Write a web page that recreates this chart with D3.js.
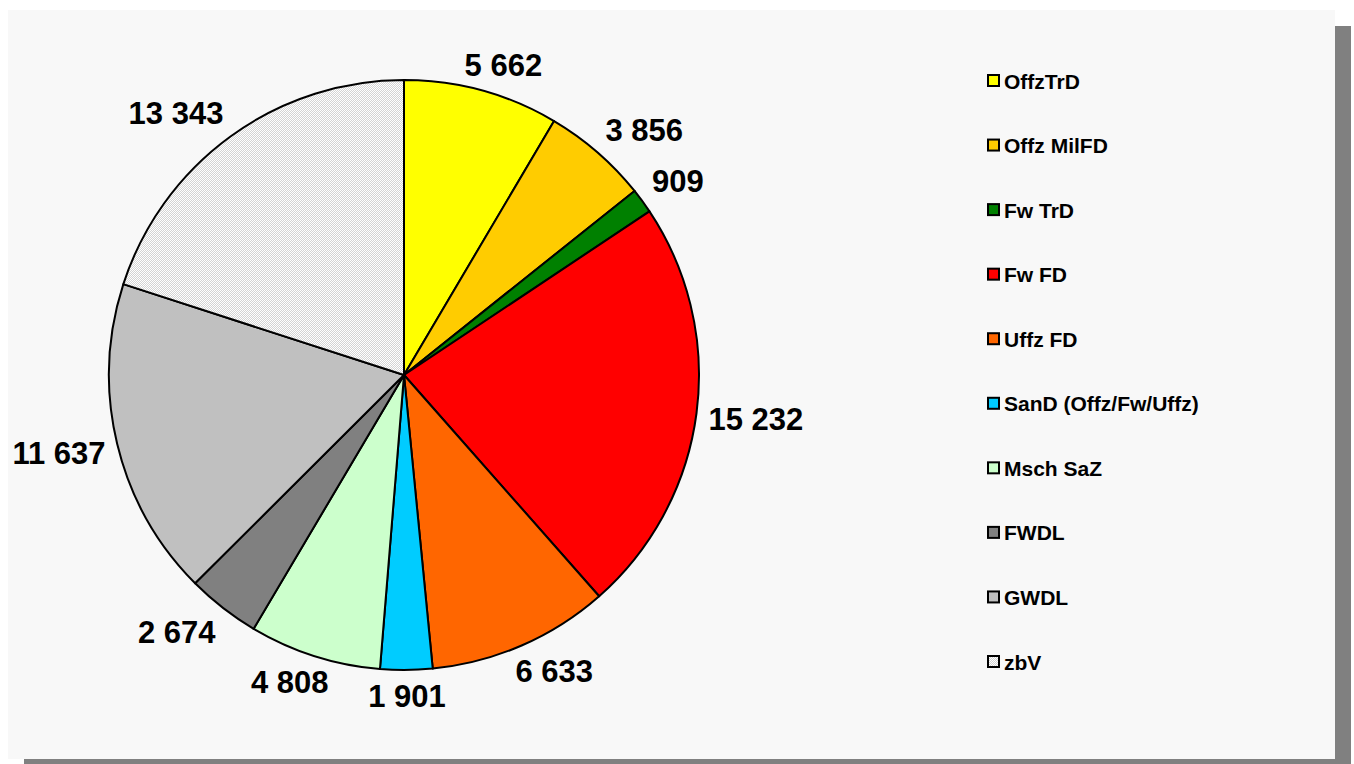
<!DOCTYPE html>
<html>
<head>
<meta charset="utf-8">
<script src="https://cdn.jsdelivr.net/npm/d3@7/dist/d3.min.js"></script>
<style>
  html, body { margin: 0; padding: 0; background: #ffffff; }
  svg { display: block; }
  text { font-family: "Liberation Sans", Arial, sans-serif; font-weight: bold; fill: #000; }
</style>
</head>
<body>
<svg id="chart" width="1354" height="764"></svg>
<script>
// Personnel categories and their counts
const categories = ["OffzTrD", "Offz MilFD", "Fw TrD", "Fw FD", "Uffz FD",
  "SanD (Offz/Fw/Uffz)", "Msch SaZ", "FWDL", "GWDL", "zbV"];
const values = [5662, 3856, 909, 15232, 6633, 1901, 4808, 2674, 11637, 13343];
const colors = ["#FFFF00", "#FFCC00", "#008000", "#FF0000", "#FF6600",
  "#00CCFF", "#CCFFCC", "#808080", "#C0C0C0", "url(#dots)"];

const W = 1354, H = 764;
const svg = d3.select("#chart");

// dotted fill for the last slice
const defs = svg.append("defs");
const pat = defs.append("pattern").attr("id", "dots")
  .attr("patternUnits", "userSpaceOnUse").attr("width", 2).attr("height", 2);
pat.append("rect").attr("width", 2).attr("height", 2).attr("fill", "#ffffff");
pat.append("rect").attr("width", 1).attr("height", 1).attr("fill", "#d4d4d4");
pat.append("rect").attr("x", 1).attr("y", 1).attr("width", 1).attr("height", 1).attr("fill", "#d4d4d4");

// chart area with drop shadow
const panel = { x: 8, y: 10, w: 1327, h: 749 };
svg.append("rect").attr("x", panel.x + 16).attr("y", panel.y + 16)
  .attr("width", panel.w).attr("height", panel.h).attr("fill", "#808080");
svg.append("rect").attr("x", panel.x).attr("y", panel.y)
  .attr("width", panel.w).attr("height", panel.h).attr("fill", "#f8f8f8");

// pie
const cx = 404, cy = 375, R = 295;
const pie = d3.pie().sort(null).value(d => d.value);
const arcs = pie(categories.map((c, i) => ({ name: c, value: values[i], color: colors[i] })));
const arc = d3.arc().innerRadius(0).outerRadius(R);

const g = svg.append("g").attr("transform", `translate(${cx},${cy})`);
g.selectAll("path.slice").data(arcs).join("path")
  .attr("class", "slice")
  .attr("d", arc)
  .attr("fill", d => d.data.color)
  .attr("stroke", "#000")
  .attr("stroke-width", 2)
  .attr("stroke-linejoin", "round");

// value labels outside each slice
const fmt = v => d3.format(",")(v).replace(/,/g, " ");
const fontSize = 31, lblR = R + 12;
const clamp = v => Math.max(-1, Math.min(1, v));
const labels = g.selectAll("text.val").data(arcs).join("text")
  .attr("class", "val")
  .attr("font-size", fontSize)
  .attr("text-anchor", "middle")
  .attr("dominant-baseline", "central")
  .text(d => fmt(d.data.value));
labels.each(function (d) {
  const a = (d.startAngle + d.endAngle) / 2;
  const s = Math.sin(a), c = -Math.cos(a);
  const w = this.getComputedTextLength(), h = fontSize * 0.9;
  const x = lblR * s + (w / 2) * clamp(1.8 * s);
  const y = lblR * c + (h / 2) * clamp(1.8 * c);
  d3.select(this).attr("x", x).attr("y", y + 1);
});

// legend
const legY = d3.scalePoint().domain(categories).range([81, 662]);
const leg = svg.append("g");
const item = leg.selectAll("g").data(arcs).join("g")
  .attr("transform", d => `translate(987,${legY(d.data.name)})`);
item.append("rect").attr("x", 1).attr("y", -6).attr("width", 11).attr("height", 11)
  .attr("fill", d => d.data.color).attr("stroke", "#000").attr("stroke-width", 2);
item.append("text").attr("x", 17).attr("y", 0)
  .attr("dominant-baseline", "central").attr("font-size", 21)
  .text(d => d.data.name);
</script>
</body>
</html>
